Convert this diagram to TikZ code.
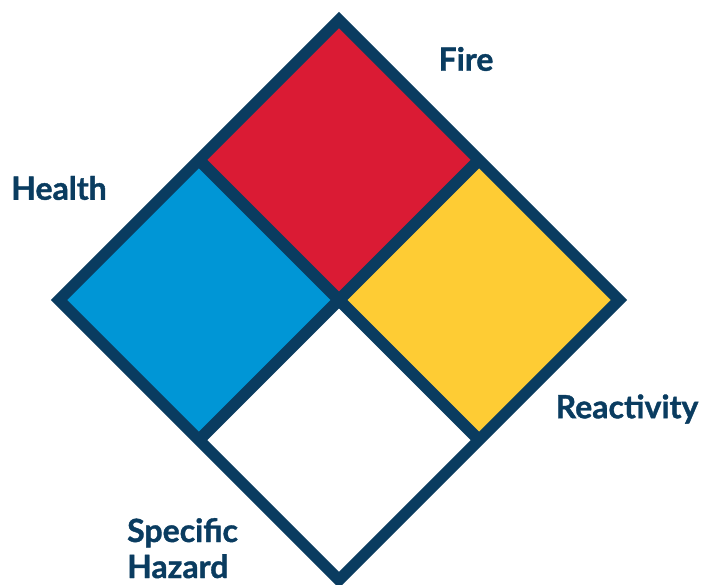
\documentclass[tikz,border=0pt]{standalone}
\usepackage{fontspec}
\setmainfont{Lato}[BoldFeatures={FakeBold=1.2}]
\usetikzlibrary{calc}
\begin{document}
\begin{tikzpicture}[x=1pt,y=1pt,
  lbl/.style={font=\fontsize{32}{34}\selectfont\bfseries, text=navy, inner sep=0pt},
  frame/.style={draw=navy, line width=11.5pt, line join=miter},
  divider/.style={draw=navy, line width=12pt, line cap=butt}]
\definecolor{navy}{RGB}{10,60,96}
\definecolor{hred}{RGB}{218,27,52}
\definecolor{hblue}{RGB}{0,150,214}
\definecolor{hyellow}{RGB}{254,204,52}
\useasboundingbox (0,0) rectangle (701,584);
\clip (0,0) rectangle (701,584);
% centre of the diamond
\coordinate (C) at (339,284);
\def\R{280}
\coordinate (T) at ($(C)+(0,\R)$);
\coordinate (B) at ($(C)+(0,-\R)$);
\coordinate (L) at ($(C)+(-\R,0)$);
\coordinate (Rt) at ($(C)+(\R,0)$);
\coordinate (UL) at ($(C)+(-\R/2,\R/2)$);
\coordinate (UR) at ($(C)+(\R/2,\R/2)$);
\coordinate (LL) at ($(C)+(-\R/2,-\R/2)$);
\coordinate (LR) at ($(C)+(\R/2,-\R/2)$);
% quadrants
\fill[hred] (C) -- (UL) -- (T) -- (UR) -- cycle;
\fill[hblue] (C) -- (UL) -- (L) -- (LL) -- cycle;
\fill[hyellow] (C) -- (UR) -- (Rt) -- (LR) -- cycle;
\fill[white] (C) -- (LL) -- (B) -- (LR) -- cycle;
% dividers
\draw[divider] (UL) -- (LR);
\draw[divider] (UR) -- (LL);
% frame
\draw[frame] (T) -- (Rt) -- (B) -- (L) -- cycle;
% labels
\node[lbl] (fire) at (466,525) {Fire};
\node[lbl] (health) at (59,396) {Health};
\node[lbl] (react) at (627,175) {Reactivity};
\node[lbl, anchor=base west] (spec) at (127,42) {Specific};
\node[lbl, anchor=base west] (haz) at (127,6) {Hazard};
\end{tikzpicture}
\end{document}
